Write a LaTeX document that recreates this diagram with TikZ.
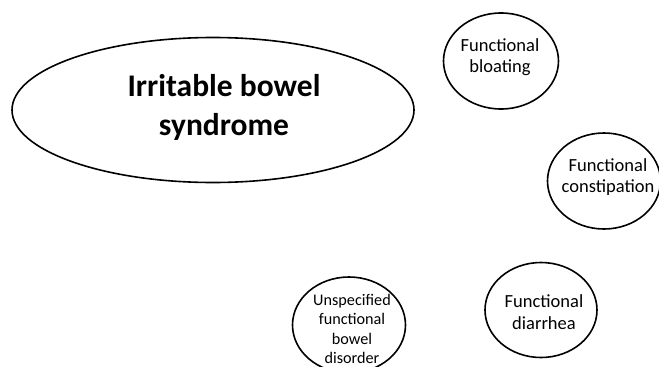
\documentclass[tikz,border=0pt]{standalone}
\usepackage{fontspec}
\setmainfont{Carlito}
\usetikzlibrary{shapes.geometric}
\begin{document}
\begin{tikzpicture}[x=1pt,y=-1pt,
  oval/.style={draw=black,line width=1.6pt,ellipse,inner sep=0pt},
  lbl/.style={align=center,inner sep=0pt,font=\fontsize{18.5}{21.5}\selectfont},
  biglbl/.style={align=center,inner sep=0pt,font=\fontsize{31.5}{39}\selectfont\bfseries}]
\useasboundingbox (0,0) rectangle (659,367);
\begin{scope}
\clip (0,0) rectangle (659,367);
\node[oval,minimum width=402pt,minimum height=145pt] (ibs) at (213,110) {};
\node[biglbl] (ibst) at (224,107) {Irritable bowel\\syndrome};
\node[oval,minimum width=115pt,minimum height=96pt] (blo) at (501,61) {};
\node[lbl] (blot) at (500,57) {Functional\\bloating};
\node[oval,minimum width=113pt,minimum height=96pt] (con) at (604,181) {};
\node[lbl] (cont) at (608,177) {Functional\\constipation};
\node[oval,minimum width=112pt,minimum height=95pt] (dia) at (541,310) {};
\node[lbl] (diat) at (544,312) {Functional\\diarrhea};
\node[oval,minimum width=113pt,minimum height=96pt] (uns) at (349,325) {};
\node[lbl,font=\fontsize{16.2}{19.3}\selectfont] (unst) at (352,329) {Unspecified\\functional\\bowel\\disorder};
\end{scope}
\end{tikzpicture}
\end{document}
